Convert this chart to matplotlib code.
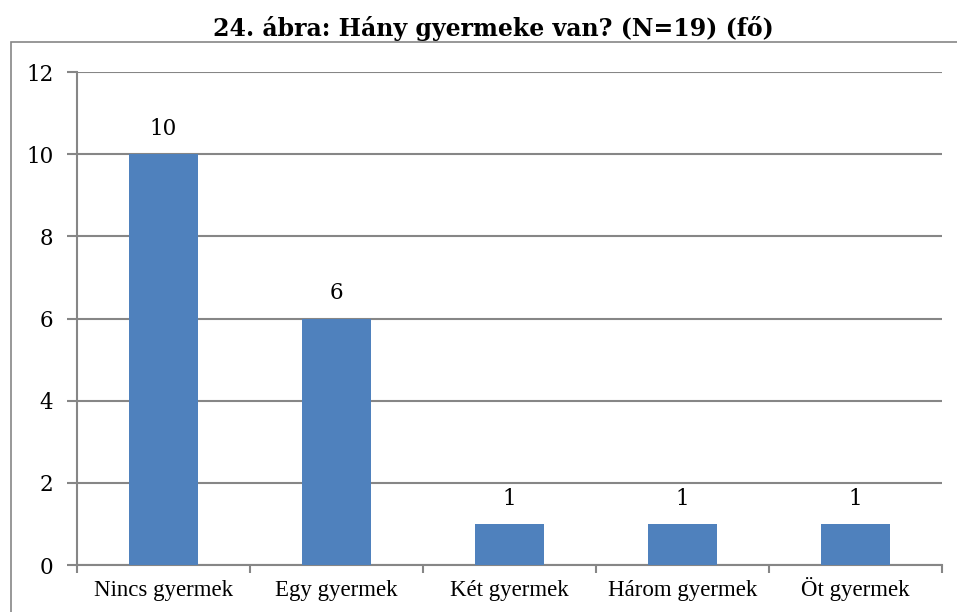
import matplotlib.pyplot as plt
from matplotlib.patches import Rectangle

# Data
categories = ["Nincs gyermek", "Egy gyermek", "Két gyermek", "Három gyermek", "Öt gyermek"]
counts = [10, 6, 1, 1, 1]
yticks = [0, 2, 4, 6, 8, 10, 12]

grid_col = "#868686"
bar_col = "#4F81BD"

fig = plt.figure(figsize=(9.57, 6.12), dpi=100)
W, H = 957, 612

# outer chart border (right and bottom are cut off in the reference)
fig.patches.append(Rectangle((11 / W, -0.1), 1.2, 1 - 42 / H + 0.1,
                             transform=fig.transFigure, fill=False,
                             edgecolor=grid_col, linewidth=1.2))

ax = fig.add_axes([77 / W, 1 - 565 / H, (942 - 77) / W, (565 - 72) / H])

x = range(len(categories))
bars = ax.bar(x, counts, width=0.4, color=bar_col, zorder=3)
ax.set_xlim(-0.5, len(categories) - 0.5)
ax.set_ylim(0, 12)

# value labels
for b, v in zip(bars, counts):
    ax.text(b.get_x() + b.get_width() / 2, v + 0.35, str(v),
            ha="center", va="bottom", fontsize=15.5, family="DejaVu Serif")

# y axis
ax.set_yticks(yticks)
ax.set_yticklabels([str(t) for t in yticks], fontsize=15.5, family="DejaVu Serif")
ax.yaxis.grid(True, color=grid_col, linewidth=1.5, zorder=0)
ax.tick_params(axis="y", length=7, width=1.5, color=grid_col, pad=10)

# x axis: labels at centres, ticks at boundaries
ax.set_xticks(list(x))
ax.set_xticklabels(categories, fontsize=16.5, family="Liberation Serif")
for lbl in ax.get_xticklabels():
    lbl.set_verticalalignment("baseline")
ax.tick_params(axis="x", length=0, pad=22)
ax.set_xticks([i - 0.5 for i in range(len(categories) + 1)], minor=True)
ax.tick_params(axis="x", which="minor", length=6, width=1.5, color=grid_col)

for s in ["top", "right"]:
    ax.spines[s].set_visible(False)
for s in ["left", "bottom"]:
    ax.spines[s].set_color(grid_col)
    ax.spines[s].set_linewidth(1.5)

fig.text(493 / W, 1 - 36 / H, "24. ábra: Hány gyermeke van? (N=19) (fő)",
         ha="center", va="baseline", fontsize=17, fontweight="bold",
         family="DejaVu Serif")

fig.savefig("out.png", dpi=100, facecolor="white")
